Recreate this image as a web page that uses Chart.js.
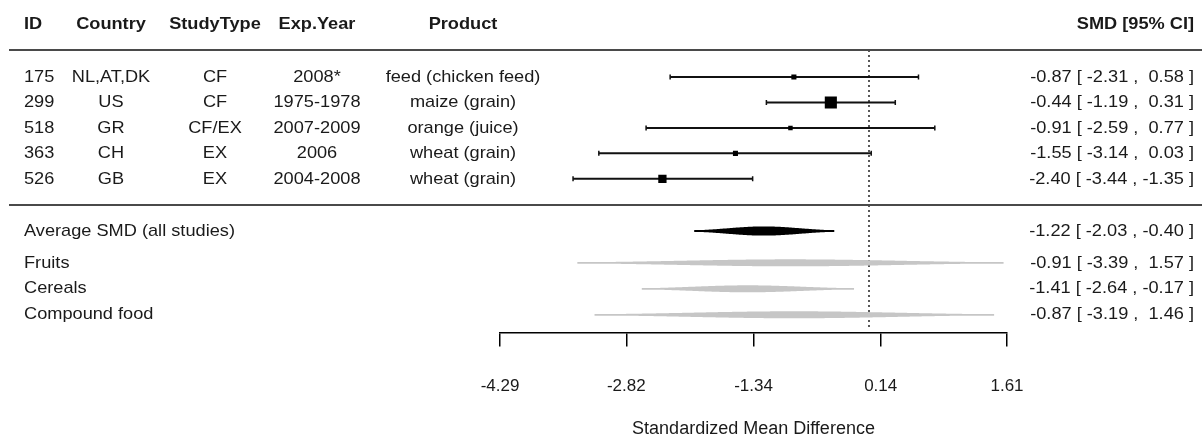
<!DOCTYPE html>
<html>
<head>
<meta charset="utf-8">
<script src="https://cdn.jsdelivr.net/npm/chart.js@4.4.1/dist/chart.umd.min.js"></script>
<style>
  html, body { margin: 0; padding: 0; background: #fff; }
  #wrap { width: 1202px; height: 436px; position: relative; }
</style>
</head>
<body>
<div id="wrap"><canvas id="forest"></canvas></div>
<script>
// study table
const ids = ['175', '299', '518', '363', '526'];
const countries = ['NL,AT,DK', 'US', 'GR', 'CH', 'GB'];
const studyTypes = ['CF', 'CF', 'CF/EX', 'EX', 'EX'];
const expYears = ['2008*', '1975-1978', '2007-2009', '2006', '2004-2008'];
const products = ['feed (chicken feed)', 'maize (grain)', 'orange (juice)', 'wheat (grain)', 'wheat (grain)'];
const smd = [-0.87, -0.44, -0.91, -1.55, -2.40];
const ciLow = [-2.31, -1.19, -2.59, -3.14, -3.44];
const ciHigh = [0.58, 0.31, 0.77, 0.03, -1.35];
const weights = [10.5, 45.5, 7.4, 10.2, 26.4];
const studyRows = [1, 2, 3, 4, 5];

// pooled estimates
const summaryLabels = ['Average SMD (all studies)', 'Fruits', 'Cereals', 'Compound food'];
const summarySmd = [-1.22, -0.91, -1.41, -0.87];
const summaryLow = [-2.03, -3.39, -2.64, -3.19];
const summaryHigh = [-0.40, 1.57, -0.17, 1.46];
const summaryRows = [7.05, 8.3, 9.32, 10.34];

const tickVals = [-4.29, -2.82, -1.34, 0.14, 1.61];

const FONT = '"Liberation Sans", Arial, sans-serif';
const INK = '#1a1a1a';
const SX = 1.07; // source text is slightly wide

const pad = v => (v < 0 ? '' : ' ') + v.toFixed(2);
const fmtCI = (m, lo, hi) => m.toFixed(2) + ' [ ' + pad(lo) + ' , ' + pad(hi) + ' ]';

function txt(ctx, s, x, y, align, bold) {
  ctx.save();
  ctx.translate(x, y);
  ctx.scale(SX, 1);
  ctx.font = (bold ? 'bold ' : '') + '17px ' + FONT;
  ctx.fillStyle = INK;
  ctx.textAlign = align;
  ctx.textBaseline = 'middle';
  ctx.fillText(s, 0, 0);
  ctx.restore();
}

function raindrop(ctx, xs, m, lo, hi, cy, half, color) {
  const pm = xs.getPixelForValue(m);
  const pl = xs.getPixelForValue(lo);
  const ph = xs.getPixelForValue(hi);
  const sdL = (pm - pl) / 1.96, sdR = (ph - pm) / 1.96;
  const w = px => {
    const z = (px - pm) / (px < pm ? sdL : sdR);
    return Math.max(0.9, half * Math.exp(-0.5 * z * z));
  };
  ctx.beginPath();
  for (let px = pl; px < ph; px += 1) ctx.lineTo(px, cy - w(px));
  ctx.lineTo(ph, cy - w(ph));
  for (let px = ph; px > pl; px -= 1) ctx.lineTo(px, cy + w(px));
  ctx.lineTo(pl, cy + w(pl));
  ctx.closePath();
  ctx.fillStyle = color;
  ctx.fill();
}

const col = { id: 24, country: 111, type: 215, year: 317, product: 463, right: 1194 };

const forestPlugin = {
  id: 'forestText',
  beforeDatasetsDraw(chart) {
    const { ctx, chartArea, scales } = chart;
    const xs = scales.x, ys = scales.y;
    // line of no effect
    ctx.save();
    ctx.strokeStyle = '#222';
    ctx.lineWidth = 1.5;
    ctx.setLineDash([2, 3]);
    const x0 = Math.round(xs.getPixelForValue(0));
    ctx.beginPath();
    ctx.moveTo(x0, chartArea.top);
    ctx.lineTo(x0, chartArea.bottom - 3);
    ctx.stroke();
    ctx.restore();
    // pooled shapes
    summaryRows.forEach((r, i) => {
      raindrop(ctx, xs, summarySmd[i], summaryLow[i], summaryHigh[i], ys.getPixelForValue(r),
        i === 0 ? 4.6 : 3.5, i === 0 ? '#000' : '#c6c6c6');
    });
  },
  afterDraw(chart) {
    const { ctx, chartArea, scales } = chart;
    const ys = scales.y;
    const hy = chartArea.top - 26;
    txt(ctx, 'ID', col.id, hy, 'left', true);
    txt(ctx, 'Country', col.country, hy, 'center', true);
    txt(ctx, 'StudyType', col.type, hy, 'center', true);
    txt(ctx, 'Exp.Year', col.year, hy, 'center', true);
    txt(ctx, 'Product', col.product, hy, 'center', true);
    txt(ctx, 'SMD [95% CI]', col.right, hy, 'right', true);

    studyRows.forEach((r, i) => {
      const y = ys.getPixelForValue(r);
      txt(ctx, ids[i], col.id, y, 'left');
      txt(ctx, countries[i], col.country, y, 'center');
      txt(ctx, studyTypes[i], col.type, y, 'center');
      txt(ctx, expYears[i], col.year, y, 'center');
      txt(ctx, products[i], col.product, y, 'center');
      txt(ctx, fmtCI(smd[i], ciLow[i], ciHigh[i]), col.right, y, 'right');
    });
    summaryRows.forEach((r, i) => {
      const y = ys.getPixelForValue(r);
      txt(ctx, summaryLabels[i], col.id, y, 'left');
      txt(ctx, fmtCI(summarySmd[i], summaryLow[i], summaryHigh[i]), col.right, y, 'right');
    });

    // separators
    const last = studyRows[studyRows.length - 1];
    const ySep = (ys.getPixelForValue(last) + ys.getPixelForValue(summaryRows[0])) / 2;
    ctx.save();
    ctx.strokeStyle = '#4a4a4a';
    ctx.lineWidth = 2;
    [chartArea.top, ySep].forEach(y => {
      ctx.beginPath();
      ctx.moveTo(9, y);
      ctx.lineTo(chart.width, y);
      ctx.stroke();
    });
    ctx.restore();
  }
};

const ciSets = studyRows.map((r, i) => ({
  type: 'line',
  data: [{ x: ciLow[i], y: r }, { x: ciHigh[i], y: r }],
  borderColor: '#111',
  borderWidth: 2,
  pointStyle: 'line',
  pointRotation: 90,
  pointRadius: 2.5,
  pointBorderWidth: 1.5,
  pointBorderColor: '#111',
  order: 2
}));

const boxSet = {
  type: 'scatter',
  data: studyRows.map((r, i) => ({ x: smd[i], y: r })),
  pointStyle: 'rect',
  pointRadius: weights.map(w => (3 + 0.2 * w) / Math.SQRT2),
  backgroundColor: '#000',
  borderWidth: 0,
  order: 1
};

new Chart(document.getElementById('forest'), {
  type: 'scatter',
  data: { datasets: [boxSet, ...ciSets] },
  options: {
    responsive: true,
    maintainAspectRatio: false,
    animation: false,
    events: [],
    layout: { padding: { left: 500, right: 195, top: 50, bottom: 0 } },
    plugins: { legend: { display: false }, tooltip: { enabled: false } },
    scales: {
      x: {
        type: 'linear',
        min: tickVals[0],
        max: tickVals[tickVals.length - 1],
        afterBuildTicks: s => { s.ticks = tickVals.map(v => ({ value: v })); },
        border: { display: true, color: '#000', width: 1.5 },
        grid: { drawOnChartArea: false, drawTicks: true, tickLength: 14, color: '#000', lineWidth: 1.5 },
        ticks: {
          color: INK,
          font: { family: FONT, size: 17 },
          padding: 30,
          maxRotation: 0,
          callback: v => v.toFixed(2)
        },
        title: {
          display: true,
          text: 'Standardized Mean Difference',
          color: INK,
          font: { family: FONT, size: 18, lineHeight: 1 },
          // tick padding is counted twice in the axis height, take it back here
          padding: { top: -7, bottom: -2 }
        }
      },
      y: {
        type: 'linear',
        display: false,
        reverse: true,
        min: -0.06,
        max: 11.04
      }
    }
  },
  plugins: [forestPlugin]
});
</script>
</body>
</html>
